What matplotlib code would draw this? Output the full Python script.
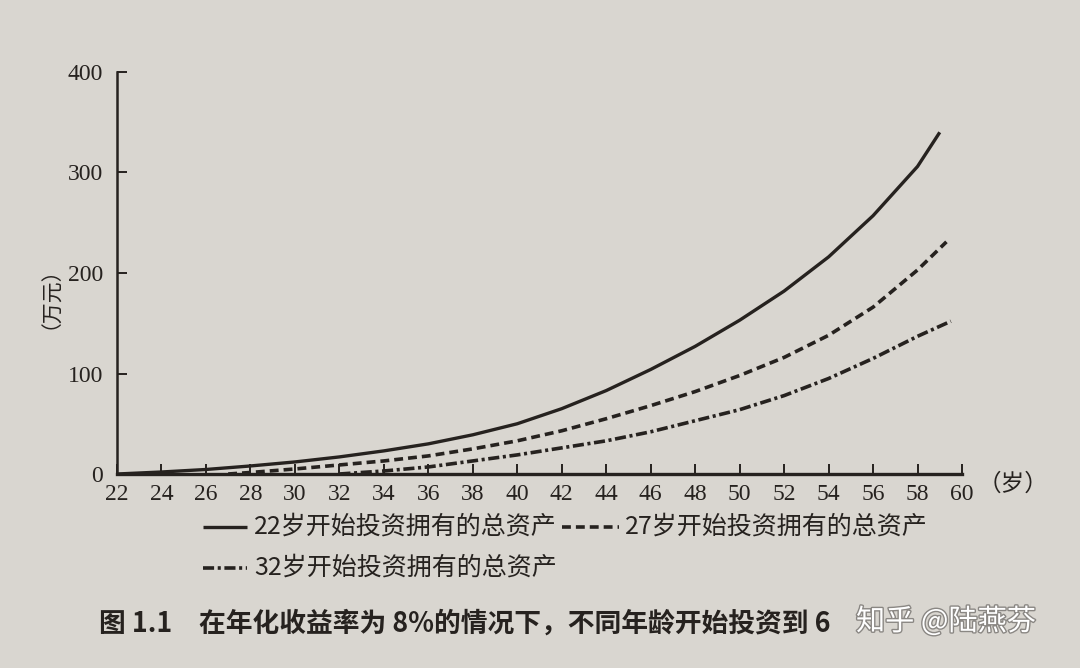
import matplotlib
matplotlib.use("Agg")
import matplotlib.pyplot as plt
from matplotlib.lines import Line2D
import matplotlib.patheffects as pe

plt.rcParams['font.family'] = ['Noto Sans CJK SC', 'DejaVu Sans']
plt.rcParams['lines.scale_dashes'] = False

# ---- data (万元) ----
ages_22 = [22, 24, 26, 28, 30, 32, 34, 36, 38, 40, 42, 44, 46, 48, 50, 52, 54, 56, 58, 59]
assets_22 = [0, 2, 4.5, 8, 12, 17, 23, 30, 39, 50, 65, 83, 104, 127, 153, 182, 216, 257, 306, 340]

ages_27 = [27, 28, 30, 32, 34, 36, 38, 40, 42, 44, 46, 48, 50, 52, 54, 56, 58, 59.3]
assets_27 = [0, 1.5, 5, 9, 13, 18, 25, 33, 43, 55, 68, 82, 98, 116, 138, 166, 203, 231]

ages_32 = [32, 34, 36, 38, 40, 42, 44, 46, 48, 50, 52, 54, 56, 58, 59.5]
assets_32 = [0, 3, 7, 13, 19, 26, 33, 42, 53, 64, 78, 95, 115, 137, 152]

x_ticks = list(range(22, 61, 2))
y_ticks = [0, 100, 200, 300, 400]

legend_labels = ['22岁开始投资拥有的总资产', '27岁开始投资拥有的总资产', '32岁开始投资拥有的总资产']
y_label = '（万元）'
x_unit = '（岁）'
caption = '图 1.1　在年化收益率为 8%的情况下，不同年龄开始投资到 6'
watermark = '知乎 @陆燕芬'

# ---- styling ----
paper = '#d9d6d0'
ink = '#26221f'
serif = ['Liberation Serif', 'DejaVu Serif']

styles = [
    dict(color=ink, lw=2.4, linestyle='-', solid_capstyle='butt'),
    dict(color=ink, lw=2.6, linestyle=(0, (6.4, 3.6))),
    dict(color=ink, lw=2.6, linestyle=(0, (8, 2.6, 2.2, 2.6))),
]

fig = plt.figure(figsize=(10.8, 6.68), dpi=100, facecolor=paper)
ax = fig.add_axes([117 / 1080, 1 - 474 / 668, (962 - 117) / 1080, (474 - 72) / 668])
ax.set_facecolor(paper)

for ages, vals, st in zip([ages_22, ages_27, ages_32], [assets_22, assets_27, assets_32], styles):
    ax.plot(ages, vals, **st, clip_on=False)

ax.set_xlim(22, 60)
ax.set_ylim(0, 400)
ax.set_xticks(x_ticks)
ax.set_yticks(y_ticks)
for s in ['top', 'right']:
    ax.spines[s].set_visible(False)
ax.spines['left'].set_linewidth(1.8)
ax.spines['bottom'].set_linewidth(2.4)
ax.spines['left'].set_color(ink)
ax.spines['bottom'].set_color(ink)
ax.tick_params(axis='both', direction='in', colors=ink, length=7, width=1.4)
ax.tick_params(axis='x', pad=7)
ax.tick_params(axis='y', pad=10)
for lab in ax.get_xticklabels() + ax.get_yticklabels():
    lab.set_fontfamily(serif)
    lab.set_fontsize(17)
    lab.set_color(ink)

fig.text(40 / 1080, 1 - 287 / 668, y_label, rotation=90, ha='center', va='center',
         fontsize=15, color=ink)
fig.text(978 / 1080, 1 - 484 / 668, x_unit, ha='left', va='center', fontsize=17, color=ink)

# ---- legend (manual, in figure pixels) ----
def fx(px):
    return px / 1080

def fy(py):
    return 1 - py / 668

legend_rows = [
    (203, 247, 254, 527),
    (562, 619, 625, 527),
    (203, 247, 254, 568),
]
for (x0, x1, tx, yy), st, lab in zip(legend_rows, styles, legend_labels):
    fig.add_artist(Line2D([fx(x0), fx(x1)], [fy(yy), fy(yy)], transform=fig.transFigure, **st))
    fig.text(fx(tx), fy(yy), lab, ha='left', va='center', fontsize=18, color=ink)

fig.text(fx(99), fy(624), caption, ha='left', va='center', fontsize=19.3,
         fontweight='bold', color=ink)
fig.text(fx(856), fy(622), watermark, ha='left', va='center', fontsize=21,
         color='white', path_effects=[pe.withStroke(linewidth=2, foreground='#8a8783')])

fig.savefig('out.png', dpi=100, facecolor=paper)
